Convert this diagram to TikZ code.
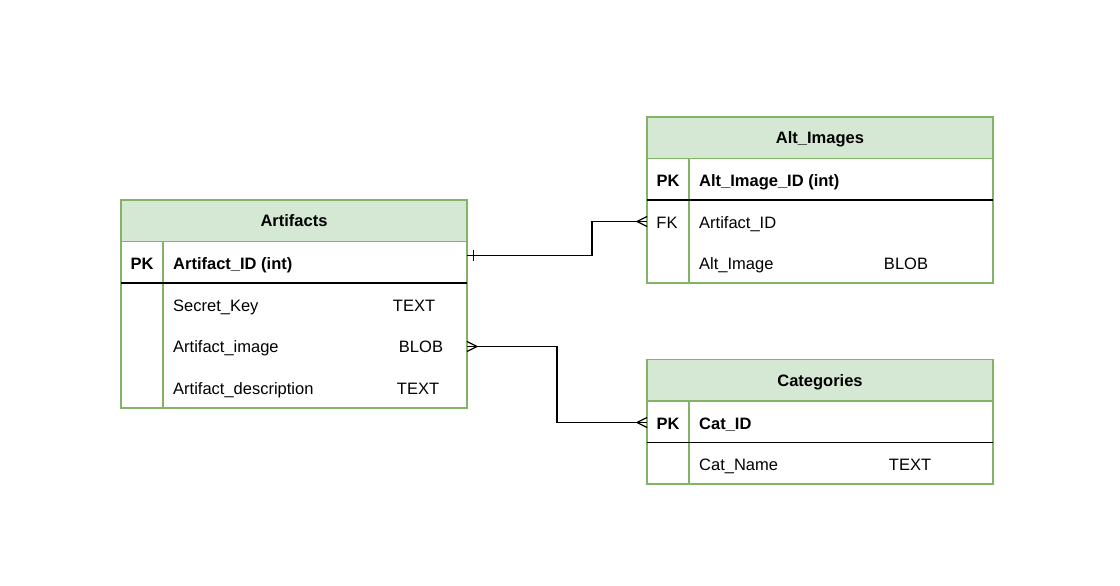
\documentclass[tikz,border=0pt]{standalone}
\usepackage{fontspec}
\setmainfont{Liberation Sans}
\definecolor{hdr}{HTML}{D5E8D4}
\definecolor{bdr}{HTML}{82B366}
\begin{document}
\begin{tikzpicture}[x=1pt,y=-1pt,
  font=\fontsize{16.5}{20}\selectfont,
  tbody/.style={draw=bdr, fill=white, line width=1.4pt, minimum width=346pt, inner sep=0pt, outer sep=0pt, anchor=north west},
  thead/.style={tbody, fill=hdr, minimum height=41.5pt, text height=12pt, text depth=0pt, font=\fontsize{16.5}{20}\selectfont\bfseries},
  sep/.style={draw=black, line width=1.4pt},
  divl/.style={draw=bdr, line width=1.4pt},
  fld/.style={anchor=west, inner sep=0pt, text height=12pt, text depth=0pt},
  key/.style={anchor=center, inner sep=0pt, text height=12pt, text depth=0pt},
  bold/.style={font=\fontsize{16.5}{20}\selectfont\bfseries},
  conn/.style={draw=black, line width=1.3pt},
]
\useasboundingbox (0,0) rectangle (1120,586);

% ---------- Artifacts ----------
\node[tbody, minimum height=166.5pt] (artb) at (121,241.5) {};
\node[thead] (arth) at (121,200) {Artifacts};
\draw[divl] (163,241.5) -- (163,408);
\draw[sep] (121,283) -- (467,283);
\node[key,bold] (artpk) at (142,263) {PK};
\node[fld,bold] (artid) at (173,263) {Artifact\_ID (int)};
\node[fld] (artsk) at (173,305) {Secret\_Key};
\node[key] (artskt) at (414,305) {TEXT};
\node[fld] (artim) at (173,346.5) {Artifact\_image};
\node[key] (artimt) at (421,346.5) {BLOB};
\node[fld] (artde) at (173,388) {Artifact\_description};
\node[key] (artdet) at (418,388) {TEXT};

% ---------- Alt_Images ----------
\node[tbody, minimum height=124.5pt] (altb) at (647,158.5) {};
\node[thead] (alth) at (647,117) {Alt\_Images};
\draw[divl] (689,158.5) -- (689,283);
\draw[sep] (647,200) -- (993,200);
\node[key,bold] (altpk) at (668,180) {PK};
\node[fld,bold] (altid) at (699,180) {Alt\_Image\_ID (int)};
\node[key] (altfk) at (667,222) {FK};
\node[fld] (altaid) at (699,222) {Artifact\_ID};
\node[fld] (altim) at (699,263.5) {Alt\_Image};
\node[key] (altimt) at (906,263.5) {BLOB};

% ---------- Categories ----------
\node[tbody, minimum height=83pt] (catb) at (647,401) {};
\node[thead] (cath) at (647,359.5) {Categories};
\draw[divl] (689,401) -- (689,484);
\draw[sep] (647,442.5) -- (993,442.5);
\node[key,bold] (catpk) at (668,423) {PK};
\node[fld,bold] (catid) at (699,423) {Cat\_ID};
\node[fld] (catnm) at (699,464.5) {Cat\_Name};
\node[key] (catnmt) at (910,464.5) {TEXT};

% ---------- connectors ----------
\coordinate (a1) at (artb.east |- 0,255.5);
\coordinate (b1) at (altb.west |- 0,221.5);
\draw[conn] (a1) -- ++(125,0) |- (b1);
\draw[conn] (a1) ++(6.5,-5.5) -- ++(0,11);
\draw[conn] (b1) ++(0,-5) -- ++(-10,5) -- ++(10,5);

\coordinate (a2) at (artb.east |- 0,346.5);
\coordinate (c1) at (catb.west |- 0,422.5);
\draw[conn] (a2) -- ++(90,0) |- (c1);
\draw[conn] (a2) ++(0,-5) -- ++(10,5) -- ++(-10,5);
\draw[conn] (c1) ++(0,-5) -- ++(-10,5) -- ++(10,5);
\end{tikzpicture}
\end{document}
